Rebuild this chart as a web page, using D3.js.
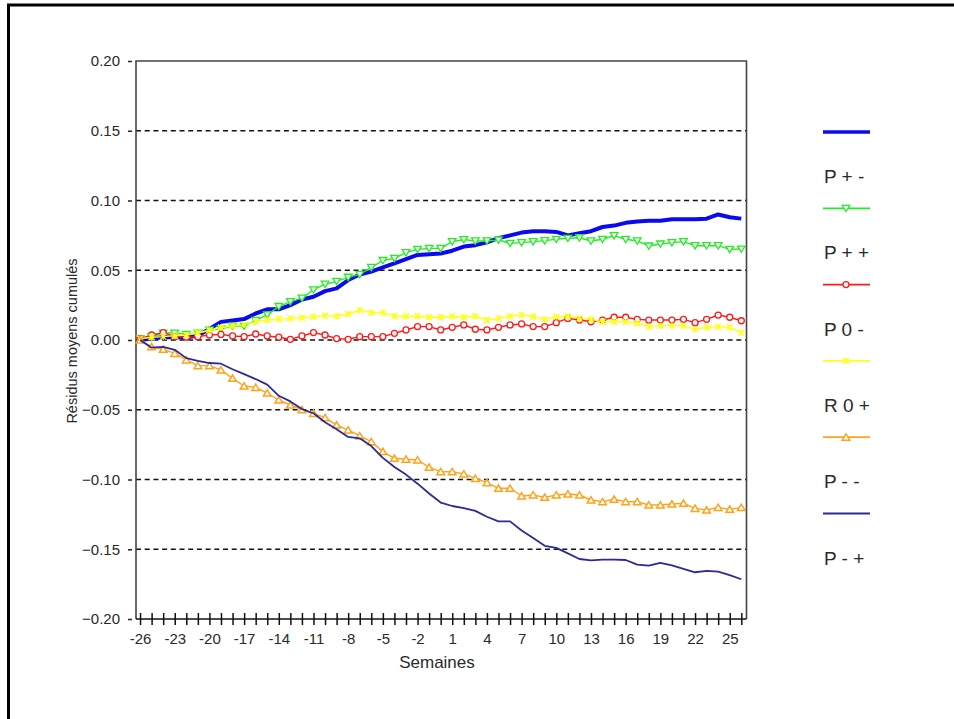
<!DOCTYPE html>
<html>
<head>
<meta charset="utf-8">
<script src="https://cdn.jsdelivr.net/npm/d3@7"></script>
<style>
  html, body { margin: 0; padding: 0; background: #fff; }
  svg { display: block; font-family: "Liberation Sans", Arial, sans-serif; }
</style>
</head>
<body>
<svg id="chart" width="954" height="719"></svg>
<script>
// ---------- DATA ----------
const weeks = d3.range(-26, 27);           // -26 .. 26
const yTicks = [0.20, 0.15, 0.10, 0.05, 0.00, -0.05, -0.10, -0.15, -0.20];
const xTickLabels = [-26, -23, -20, -17, -14, -11, -8, -5, -2, 1, 4, 7, 10, 13, 16, 19, 22, 25];
const legendLabels = ["P + -", "P + +", "P 0 -", "R 0 +", "P - -", "P - +"];
const xTitle = "Semaines";
const yTitle = "Résidus moyens cumulés";

const seriesBlue = [0.000, 0.001, 0.002, 0.002, 0.002, 0.003, 0.008, 0.013, 0.014, 0.015, 0.019, 0.022, 0.022,
  0.025, 0.029, 0.031, 0.035, 0.037, 0.043, 0.047, 0.049, 0.052, 0.055, 0.058, 0.061, 0.0615, 0.062,
  0.064, 0.067, 0.068, 0.070, 0.073, 0.075, 0.077, 0.078, 0.078, 0.0775, 0.075, 0.0765, 0.078, 0.081,
  0.082, 0.084, 0.085, 0.0855, 0.0855, 0.0865, 0.0865, 0.0865, 0.087, 0.090, 0.088, 0.087];
const seriesGreen = [0.001, 0.002, 0.005, 0.005, 0.004, 0.005, 0.007, 0.008, 0.010, 0.010, 0.014, 0.018, 0.024,
  0.0275, 0.030, 0.036, 0.040, 0.042, 0.045, 0.047, 0.052, 0.057, 0.0585, 0.0626, 0.065, 0.0657, 0.0657,
  0.0705, 0.072, 0.071, 0.071, 0.0717, 0.0693, 0.0698, 0.0705, 0.0712, 0.0722, 0.0729, 0.0733, 0.071, 0.0722,
  0.0748, 0.0722, 0.071, 0.0674, 0.0688, 0.0698, 0.0705, 0.0676, 0.0676, 0.0676, 0.065, 0.0652];
const seriesRed = [0.001, 0.0036, 0.0053, 0.0024, 0.002, 0.0024, 0.0036, 0.004, 0.0029, 0.0024, 0.0043, 0.0029, 0.002,
  0.0005, 0.0029, 0.0053, 0.0036, 0.001, 0.0005, 0.0024, 0.0024, 0.0024, 0.0048, 0.0072, 0.0096, 0.0096, 0.0072,
  0.0091, 0.0108, 0.0077, 0.0072, 0.0091, 0.0108, 0.0115, 0.0096, 0.0096, 0.0124, 0.0155, 0.0143, 0.0131, 0.0143,
  0.0163, 0.0163, 0.0148, 0.0143, 0.0143, 0.0143, 0.0148, 0.0124, 0.0148, 0.0179, 0.0163, 0.0138];
const seriesYellow = [0.001, 0.002, 0.0024, 0.003, 0.0036, 0.005, 0.007, 0.009, 0.010, 0.011, 0.013, 0.0143, 0.015,
  0.0155, 0.016, 0.0167, 0.0175, 0.017, 0.0186, 0.0215, 0.0196, 0.0196, 0.017, 0.017, 0.017, 0.0163, 0.0163,
  0.017, 0.0163, 0.017, 0.0143, 0.0155, 0.017, 0.018, 0.0167, 0.0148, 0.0167, 0.017, 0.0155, 0.0148, 0.0131,
  0.0131, 0.0131, 0.012, 0.0096, 0.0103, 0.0103, 0.0103, 0.0076, 0.0091, 0.0096, 0.0091, 0.0053];
const seriesOrange = [0.000, -0.0048, -0.0067, -0.0096, -0.0143, -0.0184, -0.0184, -0.0215, -0.0275, -0.033, -0.034, -0.038, -0.043,
  -0.0466, -0.050, -0.0526, -0.0557, -0.061, -0.0645, -0.0688, -0.0729, -0.080, -0.0848, -0.0855, -0.086, -0.0913, -0.0944,
  -0.0944, -0.096, -0.0992, -0.1023, -0.1063, -0.1063, -0.1118, -0.1111, -0.1128, -0.1111, -0.1104, -0.1111, -0.1147, -0.1159,
  -0.1142, -0.1159, -0.1159, -0.1183, -0.1183, -0.1176, -0.1171, -0.1207, -0.1219, -0.120, -0.1214, -0.120];
const seriesNavy = [0.000, -0.0055, -0.005, -0.007, -0.013, -0.015, -0.0165, -0.017, -0.021, -0.0245, -0.028, -0.032, -0.040,
  -0.044, -0.0495, -0.0525, -0.059, -0.064, -0.0695, -0.0705, -0.076, -0.0845, -0.091, -0.0965, -0.103, -0.110, -0.1165,
  -0.119, -0.1205, -0.1225, -0.1267, -0.130, -0.130, -0.1365, -0.142, -0.1475, -0.149, -0.153, -0.157, -0.158, -0.1575,
  -0.1575, -0.1577, -0.161, -0.1617, -0.1597, -0.1615, -0.164, -0.1665, -0.1655, -0.166, -0.1685, -0.1715];

// ---------- STYLE / LAYOUT ----------
const series = [
  { values: seriesBlue,   color: "#0a0af0", width: 4,   marker: null },
  { values: seriesGreen,  color: "#22ee22", width: 1.4, marker: "triDown" },
  { values: seriesRed,    color: "#ff1a1a", width: 1.4, marker: "circle" },
  { values: seriesYellow, color: "#ffff1a", width: 1.4, marker: "star" },
  { values: seriesOrange, color: "#ffa31a", width: 1.4, marker: "triUp" },
  { values: seriesNavy,   color: "#2b2b98", width: 1.8, marker: null }
];

const svg = d3.select("#chart");
const plot = { left: 136, right: 746.5, top: 61, bottom: 619 };

const x = d3.scaleLinear().domain([-26.35, 26.45]).range([plot.left, plot.right]);
const y = d3.scaleLinear().domain([-0.20, 0.20]).range([plot.bottom, plot.top]);

// outer frame
svg.append("rect").attr("x", 8.5).attr("y", 5).attr("width", 1000).attr("height", 1000)
  .attr("fill", "none").attr("stroke", "#000").attr("stroke-width", 3);

// grid lines
svg.append("g").selectAll("line").data(yTicks.filter(v => Math.abs(v) < 0.19)).join("line")
  .attr("x1", plot.left).attr("x2", plot.right)
  .attr("y1", d => y(d)).attr("y2", d => y(d))
  .attr("stroke", "#111").attr("stroke-width", 1.6).attr("stroke-dasharray", "5,3.7");

// frame of plot (top, right, left)
svg.append("path")
  .attr("d", `M${plot.left},${plot.bottom}V${plot.top}H${plot.right}V${plot.bottom}`)
  .attr("fill", "none").attr("stroke", "#444").attr("stroke-width", 1.6);

// y axis
const yAxis = d3.axisLeft(y).tickValues(yTicks).tickFormat(d3.format(".2f")).tickSize(0).tickPadding(0);
const gy = svg.append("g").attr("transform", `translate(${plot.left},0)`).call(yAxis);
gy.select(".domain").remove();
gy.selectAll(".tick text").attr("x", -16).attr("font-size", 15).attr("fill", "#2a2a2a")
  .attr("font-family", "'Liberation Sans', Arial, sans-serif");
gy.selectAll(".tick").append("line").attr("x1", -8).attr("x2", -4).attr("stroke", "#222").attr("stroke-width", 1.5);

// x axis
const xAxis = d3.axisBottom(x).tickValues(weeks)
  .tickFormat(d => xTickLabels.includes(d) ? d : "").tickSize(6).tickPadding(8);
const gx = svg.append("g").attr("transform", `translate(0,${plot.bottom})`).call(xAxis);
gx.select(".domain").attr("d", `M${plot.left},0H${plot.right}`).attr("stroke", "#111").attr("stroke-width", 1.6);
gx.selectAll(".tick line").attr("y1", -6).attr("y2", 6).attr("stroke", "#111").attr("stroke-width", 1.5);
gx.selectAll(".tick text").attr("font-size", 15).attr("fill", "#2a2a2a")
  .attr("font-family", "'Liberation Sans', Arial, sans-serif");

// axis titles
svg.append("text").attr("x", 437).attr("y", 668).attr("text-anchor", "middle")
  .attr("font-size", 17).attr("fill", "#2a2a2a").text(xTitle);
svg.append("text").attr("transform", "translate(77,341) rotate(-90)").attr("text-anchor", "middle")
  .attr("font-size", 14.5).attr("fill", "#2a2a2a").text(yTitle);

// markers
function drawMarker(g, type, cx, cy, color) {
  if (type === "triDown") {
    g.append("path").attr("d", `M${cx - 3.8},${cy - 3}L${cx + 3.8},${cy - 3}L${cx},${cy + 3.3}Z`)
      .attr("fill", "#fff").attr("stroke", color).attr("stroke-width", 1.3);
  } else if (type === "triUp") {
    g.append("path").attr("d", `M${cx - 3.8},${cy + 3}L${cx + 3.8},${cy + 3}L${cx},${cy - 3.3}Z`)
      .attr("fill", "#fff").attr("stroke", color).attr("stroke-width", 1.5);
  } else if (type === "circle") {
    g.append("circle").attr("cx", cx).attr("cy", cy).attr("r", 3)
      .attr("fill", "#fff").attr("stroke", color).attr("stroke-width", 1.3);
  } else if (type === "star") {
    g.append("path").attr("d", `M${cx - 3},${cy - 3}L${cx + 3},${cy + 3}M${cx - 3},${cy + 3}L${cx + 3},${cy - 3}M${cx},${cy - 3}V${cy + 3}`)
      .attr("stroke", color).attr("stroke-width", 1.3);
  }
}

const line = d3.line().x((d, i) => x(weeks[i])).y(d => y(d));
const plotG = svg.append("g");
series.forEach(s => {
  plotG.append("path").datum(s.values).attr("d", line)
    .attr("fill", "none").attr("stroke", s.color).attr("stroke-width", s.width)
    .attr("stroke-linejoin", "round");
  if (s.marker) {
    const mg = plotG.append("g");
    s.values.forEach((v, i) => drawMarker(mg, s.marker, x(weeks[i]), y(v), s.color));
  }
});

// legend
const legend = svg.append("g");
const legLine0 = 132, legStep = 76.3;
series.forEach((s, i) => {
  const ly = legLine0 + i * legStep;
  legend.append("line").attr("x1", 823).attr("x2", 870).attr("y1", ly).attr("y2", ly)
    .attr("stroke", s.color).attr("stroke-width", s.width === 4 ? 3.5 : 1.8);
  if (s.marker) drawMarker(legend, s.marker, 846, ly, s.color);
  legend.append("text").attr("x", 824).attr("y", ly + 51).attr("font-size", 19)
    .attr("fill", "#2a2a2a").text(legendLabels[i]);
});
</script>
</body>
</html>
